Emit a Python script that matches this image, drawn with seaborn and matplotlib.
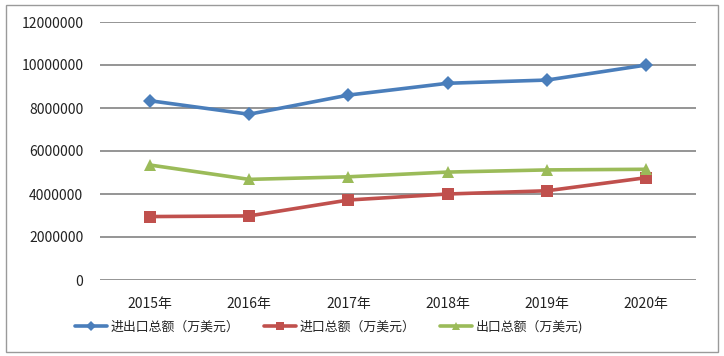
import matplotlib
matplotlib.use("Agg")
import matplotlib.pyplot as plt
import seaborn as sns
import pandas as pd
from matplotlib.patches import Rectangle

years = ["2015年", "2016年", "2017年", "2018年", "2019年", "2020年"]
total = [8340000, 7710000, 8600000, 9150000, 9300000, 10000000]
imports = [2950000, 2980000, 3720000, 4000000, 4150000, 4760000]
exports = [5350000, 4680000, 4800000, 5020000, 5120000, 5150000]
series_names = ["进出口总额（万美元）", "进口总额（万美元）", "出口总额（万美元)"]
y_ticks = [0, 2000000, 4000000, 6000000, 8000000, 10000000, 12000000]

sns.set_style("white")
plt.rcParams['font.family'] = ['Noto Sans CJK SC', 'DejaVu Sans']

rows = []
for name, vals in zip(series_names, [total, imports, exports]):
    for i, v in enumerate(vals):
        rows.append({"x": i, "value": v, "series": name})
df = pd.DataFrame(rows)

fig = plt.figure(figsize=(7.24, 3.56), dpi=100)
ax = fig.add_axes([100/724, 1-280/356, 596/724, 258/356])

palette = {series_names[0]: "#4A7EBB", series_names[1]: "#C0504D", series_names[2]: "#9BBB59"}
markers = {series_names[0]: "D", series_names[1]: "s", series_names[2]: "^"}
sizes = {series_names[0]: 7, series_names[1]: 8, series_names[2]: 8}

for name in series_names:
    sub = df[df.series == name]
    sns.lineplot(data=sub, x="x", y="value", ax=ax, color=palette[name],
                 marker=markers[name], markersize=sizes[name], linewidth=2.6,
                 markeredgewidth=0, label=name, zorder=3)

ax.set_xlim(-0.5, 5.5)
ax.set_ylim(0, 12000000)
ax.set_yticks(y_ticks)
ax.set_yticklabels([str(t) for t in y_ticks], fontsize=10, color="#222222")
ax.set_xticks(range(len(years)))
ax.set_xticklabels(years, fontsize=10, color="#222222")
ax.tick_params(axis="y", length=0, pad=12)
ax.tick_params(axis="x", length=0, pad=12)
ax.set_xlabel("")
ax.set_ylabel("")
for s in ax.spines.values():
    s.set_visible(False)
ax.grid(axis="y", color="#8C8C8C", linewidth=1.3)
ax.grid(axis="x", visible=False)
ax.set_axisbelow(True)

leg = ax.legend(loc="center", bbox_to_anchor=(0.384, -0.183), ncol=3, frameon=False,
                fontsize=9.3, handlelength=2.5, columnspacing=1.9, handletextpad=0.25,
                markerscale=0.8)

fig.patches.append(Rectangle((6/724, 1-352/356), 712/724, 347/356, transform=fig.transFigure,
                             fill=False, edgecolor="#9A9A9A", linewidth=1.0))

fig.savefig("out.png", dpi=100)
